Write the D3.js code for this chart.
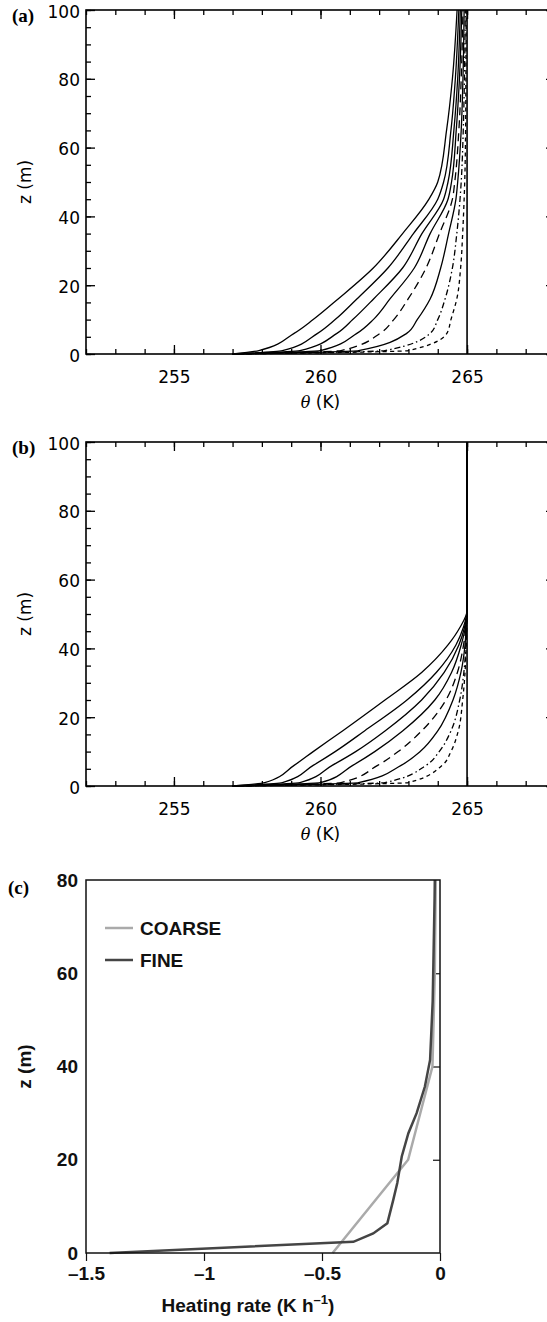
<!DOCTYPE html>
<html>
<head>
<meta charset="utf-8">
<script src="https://cdn.jsdelivr.net/npm/d3@7"></script>
<style>
body { margin: 0; background: #fff; }
svg { display: block; }
.lab { font-family: "DejaVu Sans", sans-serif; font-size: 17px; fill: #000; }
.labc { font-family: "Liberation Sans", Arial, sans-serif; font-size: 19px; font-weight: bold; fill: #111; }
.plabel { font-family: "Liberation Serif", "Times New Roman", serif; font-size: 19px; font-weight: bold; }
</style>
</head>
<body>
<script>
// heights (m) at which the theta profiles are read
var zA = [0, 1, 6, 10, 16, 25, 35, 45, 50, 65, 80, 100];
var zB = [0, 1, 6, 10, 16, 25, 33, 41, 46, 51, 100];

// panel (a): theta (K), latest profile first, initial profile last
var thetaA = [
    [257.0, 257.9, 259.1, 259.75, 260.6, 261.8, 262.8, 263.7, 264.0, 264.3, 264.5, 264.66],
    [257.0, 258.7, 259.9, 260.5, 261.24, 262.3, 263.17, 264.0, 264.2, 264.45, 264.6, 264.72],
    [257.0, 259.3, 260.56, 261.1, 261.81, 262.8, 263.46, 264.2, 264.35, 264.55, 264.68, 264.77],
    [257.0, 260.0, 261.24, 261.8, 262.37, 263.2, 263.74, 264.35, 264.47, 264.63, 264.74, 264.82],
    [257.0, 260.7, 262.03, 262.5, 262.99, 263.6, 264.06, 264.5, 264.58, 264.72, 264.8, 264.86],
    [257.0, 261.3, 262.94, 263.3, 263.74, 264.1, 264.37, 264.62, 264.68, 264.8, 264.86, 264.9],
    [257.0, 262.2, 263.74, 264.0, 264.25, 264.5, 264.65, 264.76, 264.8, 264.87, 264.91, 264.94],
    [257.0, 263.0, 264.31, 264.45, 264.65, 264.78, 264.85, 264.9, 264.92, 264.95, 264.96, 264.97],
    [265, 265, 265, 265, 265, 265, 265, 265, 265, 265, 265, 265]
];

// panel (b)
var thetaB = [
    [257.0, 258.1, 259.1, 259.75, 260.75, 262.2, 263.45, 264.35, 264.75, 265.0, 265.0],
    [257.0, 258.7, 259.75, 260.5, 261.5, 262.95, 263.95, 264.62, 264.87, 265.0, 265.0],
    [257.0, 259.3, 260.4, 261.2, 262.2, 263.45, 264.22, 264.72, 264.91, 265.0, 265.0],
    [257.0, 260.0, 261.1, 261.85, 262.8, 263.9, 264.47, 264.8, 264.94, 265.0, 265.0],
    [257.0, 260.7, 261.95, 262.65, 263.45, 264.28, 264.67, 264.88, 264.96, 265.0, 265.0],
    [257.0, 261.3, 262.75, 263.4, 264.0, 264.52, 264.79, 264.93, 264.97, 265.0, 265.0],
    [257.0, 262.2, 263.6, 264.05, 264.45, 264.75, 264.89, 264.96, 264.98, 265.0, 265.0],
    [257.0, 263.0, 264.15, 264.45, 264.7, 264.85, 264.93, 264.97, 264.99, 265.0, 265.0],
    [265, 265, 265, 265, 265, 265, 265, 265, 265, 265, 265]
];

var dashes = [null, null, null, null, "8,5", null, "6,3,1.5,3", "4,3.5", null];

// panel (c): heating rate (K/h)
var coarseZ  = [0, 20, 40, 60, 80];
var coarseHR = [-0.455, -0.135, -0.032, -0.022, -0.018];
var fineZ  = [0, 2.4, 4.2, 6.4, 11.4, 15, 20.7, 25.7, 30, 35.7, 41.4, 54, 76, 80];
var fineHR = [-1.4, -0.367, -0.283, -0.223, -0.198, -0.181, -0.162, -0.134, -0.099, -0.064, -0.042, -0.031, -0.023, -0.022];

var thetaTicks = [255, 260, 265];
var zTicks = [0, 20, 40, 60, 80, 100];
var hrTicks = [-1.5, -1, -0.5, 0];
var hrTickText = ["\u20131.5", "\u20131", "\u20130.5", "0"];
var zTicksC = [0, 20, 40, 60, 80];

var width = 547, height = 1322;

var svg = d3.select("body").append("svg")
    .attr("width", width)
    .attr("height", height);

function theta_panel(top, bottom, levels, profiles, tag) {
    var left = 86, right = 555;
    var x = d3.scaleLinear().domain([252, 268]).range([left, right]);
    var y = d3.scaleLinear().domain([0, 100]).range([bottom, top]);
    var g = svg.append("g");

    // minor ticks
    g.append("g").attr("transform", "translate(0," + bottom + ")")
        .call(d3.axisBottom(x).tickValues(d3.range(252, 269)).tickSize(-5).tickFormat(""));
    g.append("g").attr("transform", "translate(0," + top + ")")
        .call(d3.axisTop(x).tickValues(d3.range(252, 269)).tickSize(-5).tickFormat(""));
    g.append("g").attr("transform", "translate(" + left + ",0)")
        .call(d3.axisLeft(y).tickValues(d3.range(0, 101, 5)).tickSize(-5).tickFormat(""));
    g.append("g").attr("transform", "translate(" + right + ",0)")
        .call(d3.axisRight(y).tickValues(d3.range(0, 101, 5)).tickSize(-5).tickFormat(""));

    // major ticks with labels
    g.append("g").attr("transform", "translate(0," + bottom + ")")
        .call(d3.axisBottom(x).tickValues(thetaTicks).tickSize(-9).tickPadding(17).tickFormat(d3.format("d")));
    g.append("g").attr("transform", "translate(0," + top + ")")
        .call(d3.axisTop(x).tickValues(thetaTicks).tickSize(-9).tickFormat(""));
    var ly = g.append("g").attr("transform", "translate(" + left + ",0)")
        .call(d3.axisLeft(y).tickValues(zTicks).tickSize(-9).tickPadding(6).tickFormat(d3.format("d")));
    g.append("g").attr("transform", "translate(" + right + ",0)")
        .call(d3.axisRight(y).tickValues(zTicks).tickSize(-9).tickFormat(""));

    g.selectAll(".domain").remove();
    g.selectAll(".tick line").attr("stroke", "#000").attr("stroke-width", 1.3);
    g.selectAll(".tick text").attr("class", "lab").attr("font-size", null).attr("font-family", null);
    ly.selectAll(".tick text").attr("dy", "0.42em");

    // profiles
    var line = d3.line()
        .x(function(d) { return x(d[0]); })
        .y(function(d) { return y(d[1]); })
        .curve(d3.curveMonotoneY);

    profiles.forEach(function(p, i) {
        var pts = p.map(function(v, k) { return [v, levels[k]]; });
        g.append("path")
            .attr("d", line(pts))
            .attr("fill", "none")
            .attr("stroke", "#000")
            .attr("stroke-width", i == profiles.length - 1 ? 1.6 : 1.3)
            .attr("stroke-dasharray", dashes[i]);
    });

    // frame
    g.append("rect")
        .attr("x", left).attr("y", top)
        .attr("width", right - left).attr("height", bottom - top)
        .attr("fill", "none").attr("stroke", "#000").attr("stroke-width", 1.6);

    // labels
    g.append("text").attr("class", "plabel").attr("x", 12).attr("y", top + 12).text(tag);

    var xl = g.append("text").attr("class", "lab")
        .attr("x", x(260)).attr("y", bottom + 54)
        .attr("text-anchor", "middle");
    xl.append("tspan").attr("font-style", "italic").attr("font-family", "DejaVu Serif").attr("font-size", 16).text("\u03b8");
    xl.append("tspan").text(" (K)");

    g.append("text").attr("class", "lab")
        .attr("transform", "translate(31," + ((top + bottom) / 2) + ") rotate(-90)")
        .attr("text-anchor", "middle")
        .text("z (m)");
}

function heating_panel(top, bottom) {
    var left = 86, right = 440;
    var x = d3.scaleLinear().domain([-1.5, 0]).range([left, right]);
    var y = d3.scaleLinear().domain([0, 80]).range([bottom, top]);
    var g = svg.append("g");

    g.append("g").attr("transform", "translate(0," + bottom + ")")
        .call(d3.axisBottom(x).tickValues(hrTicks).tickSize(8).tickPadding(6)
            .tickFormat(function(d, i) { return hrTickText[i]; }));
    g.append("g").attr("transform", "translate(" + left + ",0)")
        .call(d3.axisLeft(y).tickValues(zTicksC).tickSize(0).tickPadding(8).tickFormat(d3.format("d")));
    g.append("g").attr("transform", "translate(" + right + ",0)")
        .call(d3.axisLeft(y).tickValues([20, 40, 60]).tickSize(7).tickFormat(""));

    g.selectAll(".domain").remove();
    g.selectAll(".tick line").attr("stroke", "#111").attr("stroke-width", 1.2);
    g.selectAll(".tick text").attr("class", "labc").attr("font-size", null).attr("font-family", null);

    var line = d3.line()
        .x(function(d) { return x(d[0]); })
        .y(function(d) { return y(d[1]); });

    g.append("path")
        .attr("d", line(coarseHR.map(function(v, k) { return [v, coarseZ[k]]; })))
        .attr("fill", "none").attr("stroke", "#aaaaaa").attr("stroke-width", 2.5);
    g.append("path")
        .attr("d", line(fineHR.map(function(v, k) { return [v, fineZ[k]]; })))
        .attr("fill", "none").attr("stroke", "#454545").attr("stroke-width", 2.5);

    g.append("rect")
        .attr("x", left).attr("y", top)
        .attr("width", right - left).attr("height", bottom - top)
        .attr("fill", "none").attr("stroke", "#111").attr("stroke-width", 1.5);

    // legend
    var items = [["COARSE", "#aaaaaa"], ["FINE", "#454545"]];
    items.forEach(function(it, i) {
        var ly = top + 48 + i * 32;
        g.append("line").attr("x1", 105).attr("x2", 133).attr("y1", ly).attr("y2", ly)
            .attr("stroke", it[1]).attr("stroke-width", 2.5);
        g.append("text").attr("class", "labc").attr("x", 140).attr("y", ly + 7).text(it[0]);
    });

    g.append("text").attr("class", "plabel").attr("x", 8).attr("y", top + 14).text("(c)");

    g.append("text").attr("class", "labc")
        .attr("transform", "translate(31," + ((top + bottom) / 2) + ") rotate(-90)")
        .attr("text-anchor", "middle")
        .text("z (m)");

    var xl = g.append("text").attr("class", "labc")
        .attr("x", 248).attr("y", bottom + 59)
        .attr("text-anchor", "middle");
    xl.append("tspan").text("Heating rate (K h");
    xl.append("tspan").attr("dy", -8).attr("font-size", 13).text("\u20131");
    xl.append("tspan").attr("dy", 8).text(")");
}

theta_panel(10, 354, zA, thetaA, "(a)");
theta_panel(442, 786, zB, thetaB, "(b)");
heating_panel(880, 1253);
</script>
</body>
</html>
